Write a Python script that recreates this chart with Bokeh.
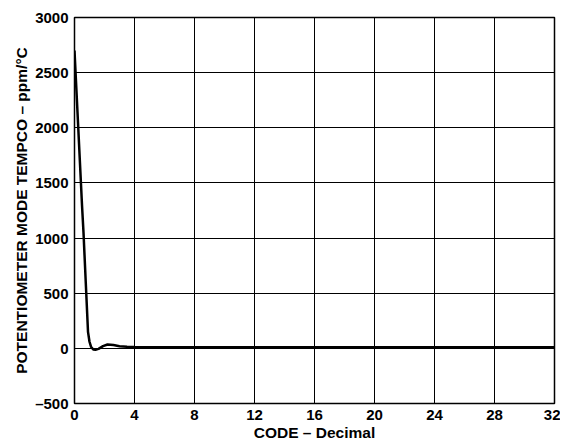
from bokeh.plotting import figure
from bokeh.embed import file_html
from bokeh.resources import INLINE
from bokeh.models import FixedTicker, Range1d

# Data
code = [0, 0.25, 0.5, 0.6, 0.75, 0.9, 1.0, 1.1, 1.25, 1.4, 1.6, 1.9, 2.2, 2.6, 3.0, 3.5, 4,
        5, 6, 8, 10, 12, 14, 16, 18, 20, 22, 24, 26, 28, 30, 32]
tempco = [2700, 2000, 1300, 1050, 600, 150, 60, 15, -10, -12, -5, 20, 35, 30, 20, 15, 12,
          11, 10, 10, 10, 10, 10, 10, 10, 10, 10, 10, 10, 10, 10, 10]
x_ticks = [0, 4, 8, 12, 16, 20, 24, 28, 32]
y_ticks = [-500, 0, 500, 1000, 1500, 2000, 2500, 3000]

FONT = "Liberation Sans"

p = figure(frame_width=480, frame_height=386, output_backend="svg", toolbar_location=None,
           x_range=Range1d(0, 32), y_range=Range1d(-500, 3000),
           min_border_left=74, min_border_right=6, min_border_top=17, min_border_bottom=42)

p.line(code, tempco, line_color="black", line_width=2.5)

p.outline_line_color = "black"
p.outline_line_width = 1.5
for g in (p.xgrid, p.ygrid):
    g.grid_line_color = "black"
    g.grid_line_width = 1
    g.grid_line_alpha = 1
p.xgrid.ticker = FixedTicker(ticks=x_ticks)
p.ygrid.ticker = FixedTicker(ticks=y_ticks)

for ax in (p.xaxis[0], p.yaxis[0]):
    ax.axis_line_color = None
    ax.major_tick_line_color = None
    ax.minor_tick_line_color = None
    ax.major_tick_out = 0
    ax.major_tick_in = 0
    ax.major_label_text_font = FONT
    ax.major_label_text_font_style = "bold"
    ax.major_label_text_font_size = "15px"
    ax.major_label_text_color = "black"
    ax.axis_label_text_font = FONT
    ax.axis_label_text_font_style = "bold"
    ax.axis_label_text_font_size = "15.5px"
    ax.axis_label_text_color = "black"

p.xaxis[0].ticker = FixedTicker(ticks=x_ticks)
p.yaxis[0].ticker = FixedTicker(ticks=y_ticks)
p.yaxis[0].major_label_overrides = {-500: "\u2013500"}
p.xaxis[0].axis_label = "CODE \u2013 Decimal"
p.yaxis[0].axis_label = "POTENTIOMETER MODE TEMPCO \u2013 ppm/\u00b0C"
p.xaxis[0].major_label_standoff = 6
p.xaxis[0].axis_label_standoff = 1
p.yaxis[0].major_label_standoff = 6
p.yaxis[0].axis_label_standoff = 2

open("out.html", "w").write(file_html(p, INLINE))
